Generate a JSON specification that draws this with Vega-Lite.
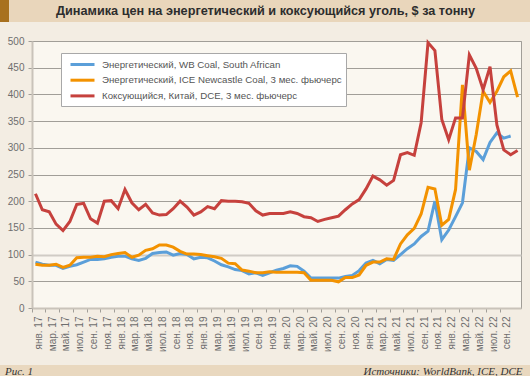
{
  "$schema": "https://vega.github.io/schema/vega-lite/v6.json",
  "padding": 0,
  "background": "#f3ede3",
  "columns": 1,
  "align": "none",
  "spacing": 13,
  "resolve": {"scale": {"color": "independent"}, "legend": {"color": "independent"}},
  "config": {"view": {"stroke": null}, "font": "Liberation Sans"},
  "datasets": {
    "coal": [
      {"d":"2017-01","wb":86,"ice":82,"dce":214},
      {"d":"2017-02","wb":82,"ice":80,"dce":184},
      {"d":"2017-03","wb":80,"ice":80,"dce":180},
      {"d":"2017-04","wb":80,"ice":82,"dce":157},
      {"d":"2017-05","wb":74,"ice":76,"dce":145},
      {"d":"2017-06","wb":78,"ice":80,"dce":162},
      {"d":"2017-07","wb":81,"ice":94,"dce":194},
      {"d":"2017-08","wb":86,"ice":95,"dce":196},
      {"d":"2017-09","wb":91,"ice":95,"dce":167},
      {"d":"2017-10","wb":91,"ice":97,"dce":159},
      {"d":"2017-11","wb":92,"ice":96,"dce":200},
      {"d":"2017-12","wb":95,"ice":100,"dce":201},
      {"d":"2018-01","wb":97,"ice":102,"dce":186},
      {"d":"2018-02","wb":97,"ice":104,"dce":222},
      {"d":"2018-03","wb":92,"ice":95,"dce":197},
      {"d":"2018-04","wb":89,"ice":99,"dce":184},
      {"d":"2018-05","wb":93,"ice":108,"dce":194},
      {"d":"2018-06","wb":102,"ice":111,"dce":178},
      {"d":"2018-07","wb":104,"ice":118,"dce":174},
      {"d":"2018-08","wb":105,"ice":118,"dce":175},
      {"d":"2018-09","wb":99,"ice":114,"dce":186},
      {"d":"2018-10","wb":102,"ice":106,"dce":200},
      {"d":"2018-11","wb":100,"ice":101,"dce":189},
      {"d":"2018-12","wb":92,"ice":101,"dce":174},
      {"d":"2019-01","wb":95,"ice":100,"dce":180},
      {"d":"2019-02","wb":94,"ice":98,"dce":190},
      {"d":"2019-03","wb":88,"ice":96,"dce":186},
      {"d":"2019-04","wb":81,"ice":93,"dce":201},
      {"d":"2019-05","wb":77,"ice":84,"dce":200},
      {"d":"2019-06","wb":72,"ice":83,"dce":200},
      {"d":"2019-07","wb":70,"ice":71,"dce":199},
      {"d":"2019-08","wb":64,"ice":69,"dce":196},
      {"d":"2019-09","wb":66,"ice":66,"dce":182},
      {"d":"2019-10","wb":61,"ice":66,"dce":174},
      {"d":"2019-11","wb":66,"ice":68,"dce":177},
      {"d":"2019-12","wb":71,"ice":67,"dce":177},
      {"d":"2020-01","wb":74,"ice":67,"dce":177},
      {"d":"2020-02","wb":79,"ice":67,"dce":180},
      {"d":"2020-03","wb":78,"ice":67,"dce":177},
      {"d":"2020-04","wb":69,"ice":66,"dce":171},
      {"d":"2020-05","wb":56,"ice":52,"dce":169},
      {"d":"2020-06","wb":56,"ice":52,"dce":162},
      {"d":"2020-07","wb":56,"ice":52,"dce":166},
      {"d":"2020-08","wb":56,"ice":52,"dce":169},
      {"d":"2020-09","wb":56,"ice":49,"dce":172},
      {"d":"2020-10","wb":59,"ice":57,"dce":184},
      {"d":"2020-11","wb":61,"ice":57,"dce":195},
      {"d":"2020-12","wb":70,"ice":62,"dce":203},
      {"d":"2021-01","wb":84,"ice":80,"dce":223},
      {"d":"2021-02","wb":89,"ice":86,"dce":247},
      {"d":"2021-03","wb":83,"ice":86,"dce":240},
      {"d":"2021-04","wb":91,"ice":92,"dce":230},
      {"d":"2021-05","wb":89,"ice":91,"dce":239},
      {"d":"2021-06","wb":100,"ice":120,"dce":287},
      {"d":"2021-07","wb":111,"ice":137,"dce":291},
      {"d":"2021-08","wb":120,"ice":149,"dce":286},
      {"d":"2021-09","wb":134,"ice":176,"dce":347},
      {"d":"2021-10","wb":144,"ice":226,"dce":497},
      {"d":"2021-11","wb":200,"ice":223,"dce":482},
      {"d":"2021-12","wb":128,"ice":155,"dce":353},
      {"d":"2022-01","wb":146,"ice":166,"dce":315},
      {"d":"2022-02","wb":171,"ice":222,"dce":356},
      {"d":"2022-03","wb":197,"ice":418,"dce":356},
      {"d":"2022-04","wb":300,"ice":258,"dce":474},
      {"d":"2022-05","wb":293,"ice":325,"dce":449},
      {"d":"2022-06","wb":278,"ice":406,"dce":409},
      {"d":"2022-07","wb":310,"ice":385,"dce":452},
      {"d":"2022-08","wb":328,"ice":406,"dce":343},
      {"d":"2022-09","wb":318,"ice":433,"dce":296},
      {"d":"2022-10","wb":322,"ice":444,"dce":287},
      {"d":"2022-11","wb":null,"ice":395,"dce":295}
    ]
  },
  "concat": [
    {
      "spacing": 0,
      "hconcat": [
        {
          "width": 9, "height": 22,
          "view": {"fill": "#a8711f", "stroke": null},
          "data": {"values": [{}]},
          "mark": "text",
          "encoding": {"text": {"value": ""}}
        },
        {
          "width": 521, "height": 22,
          "view": {"fill": "#e9d6bb", "stroke": null},
          "data": {"values": [{"t": "Динамика цен на энергетический и коксующийся уголь, $ за тонну"}]},
          "mark": {"type": "text", "font": "Liberation Sans", "fontSize": 12.7, "fontWeight": "bold", "color": "#2d2d2d", "dx": -4, "dy": 0},
          "encoding": {"text": {"field": "t"}}
        }
      ]
    },
    {
      "spacing": 0,
      "resolve": {"scale": {"color": "independent"}, "legend": {"color": "independent"}},
      "hconcat": [
        {
          "width": 1, "height": 267,
          "data": {"values": [{}]},
          "mark": "text",
          "encoding": {"text": {"value": ""}}
        },
        {
          "width": 489, "height": 267,
          "view": {"fill": "#faf7f0", "stroke": "#a19e98", "strokeWidth": 1},
          "data": {"name": "coal"},
          "transform": [{"fold": ["wb", "ice", "dce"], "as": ["series", "value"]}],
          "mark": {"type": "line", "strokeWidth": 3},
          "encoding": {
            "x": {
              "field": "d", "type": "ordinal", "bandPosition": 0.5,
              "scale": {"type": "band", "paddingInner": 0, "paddingOuter": 0},
              "axis": {
                "title": null,
                "values": ["2017-01","2017-03","2017-05","2017-07","2017-09","2017-11","2018-01","2018-03","2018-05","2018-07","2018-09","2018-11","2019-01","2019-03","2019-05","2019-07","2019-09","2019-11","2020-01","2020-03","2020-05","2020-07","2020-09","2020-11","2021-01","2021-03","2021-05","2021-07","2021-09","2021-11","2022-01","2022-03","2022-05","2022-07","2022-09"],
                "labelExpr": "['янв.','фев.','мар.','апр.','май.','июн.','июл.','авг.','сен.','окт.','ноя.','дек.'][toNumber(slice(datum.value,5,7))-1] + ' ' + slice(datum.value,2,4)",
                "bandPosition": 0, "labelOffset": 3.5, "labelAngle": -90,
                "labelFont": "Liberation Sans", "labelFontSize": 10, "labelColor": "#6e6e6e", "labelPadding": 4,
                "tickSize": 4, "tickColor": "#a19e98", "domainColor": "#c9c3ba", "domainWidth": 2,
                "grid": false, "minExtent": 42
              }
            },
            "y": {
              "field": "value", "type": "quantitative",
              "scale": {"domain": [0, 500], "nice": false},
              "axis": {
                "title": null,
                "values": [0, 50, 100, 150, 200, 250, 300, 350, 400, 450, 500],
                "grid": true,
                "gridColor": {"condition": {"test": "datum.value === 100", "value": "#d0ccc5"}, "value": "#a19e98"},
                "gridWidth": {"condition": {"test": "datum.value === 100", "value": 2}, "value": 1},
                "domainColor": "#c9c3ba", "domainWidth": 2,
                "tickSize": 4, "tickColor": "#a19e98",
                "labelFont": "Liberation Sans", "labelFontSize": 10, "labelColor": "#6e6e6e", "labelPadding": 4,
                "minExtent": 30, "maxExtent": 30
              }
            },
            "color": {
              "field": "series", "type": "nominal",
              "scale": {"domain": ["wb", "ice", "dce"], "range": ["#5b9fd9", "#f39200", "#c6413d"]},
              "legend": {
                "title": null, "orient": "none", "legendX": 29, "legendY": 12, "direction": "vertical",
                "fillColor": "#ffffff", "strokeColor": "#a8a8a8", "padding": 4,
                "symbolType": "M-2,0H2", "symbolSize": 144, "symbolStrokeWidth": 3, "symbolOffset": 10,
                "labelOffset": 12, "labelFont": "Liberation Sans", "labelFontSize": 9.7, "labelColor": "#555555",
                "labelLimit": 0, "rowPadding": 1.7,
                "labelExpr": "datum.label === 'wb' ? 'Энергетический, WB Coal, South African' : datum.label === 'ice' ? 'Энергетический, ICE Newcastle Coal, 3 мес. фьючерс' : 'Коксующийся, Китай, DCE, 3 мес. фьючерс'"
              }
            }
          }
        }
      ]
    },
    {
      "spacing": 0,
      "hconcat": [
        {
          "width": 38, "height": 14,
          "view": {"fill": "#e9d8bf", "stroke": null},
          "data": {"values": [{"t": "Рис. 1"}]},
          "mark": {"type": "text", "font": "Liberation Serif", "fontStyle": "italic", "fontSize": 11, "color": "#333333"},
          "encoding": {"text": {"field": "t"}}
        },
        {
          "width": 318, "height": 14,
          "view": {"fill": "#e9d8bf", "stroke": null},
          "data": {"values": [{}]},
          "mark": "text",
          "encoding": {"text": {"value": ""}}
        },
        {
          "width": 174, "height": 14,
          "view": {"fill": "#e9d8bf", "stroke": null},
          "data": {"values": [{"t": "Источники: WorldBank, ICE, DCE"}]},
          "mark": {"type": "text", "font": "Liberation Serif", "fontStyle": "italic", "fontSize": 11, "color": "#333333"},
          "encoding": {"text": {"field": "t"}}
        }
      ]
    }
  ]
}
